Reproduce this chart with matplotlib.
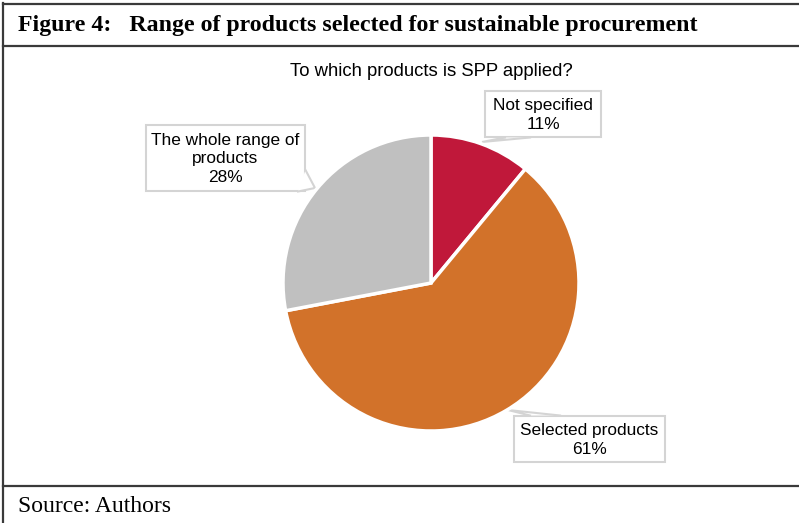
import matplotlib
matplotlib.use("Agg")
import matplotlib.pyplot as plt
from matplotlib.patches import Polygon

labels = ["Not specified", "Selected products", "The whole range of\nproducts"]
values = [11, 61, 28]
colors = ["#C0183A", "#D2722A", "#C0C0C0"]

W, H = 799, 523
fig = plt.figure(figsize=(W / 100, H / 100), dpi=100)

# frame axes in pixel coords
fa = fig.add_axes([0, 0, 1, 1])
fa.set_xlim(0, W)
fa.set_ylim(H, 0)
fa.axis("off")
lc = "#3a3a3a"
fa.plot([3, 3], [3, H], color=lc, lw=1.6)
fa.plot([3, W], [3.5, 3.5], color=lc, lw=1.6)
fa.plot([3, W], [46, 46], color=lc, lw=1.6)
fa.plot([3, W], [485.5, 485.5], color=lc, lw=1.6)

fa.text(18, 26, "Figure 4:   Range of products selected for sustainable procurement",
        family="Liberation Serif", weight="bold", fontsize=17.2, va="center", ha="left")
fa.text(18, 506, "Source: Authors", family="Liberation Serif", fontsize=17,
        va="center", ha="left")
fa.text(431, 72, "To which products is SPP applied?", family="Liberation Sans",
        fontsize=13.3, ha="center", va="center")

# pie
cx, cy, r = 431, 283, 148
pa = fig.add_axes([(cx - r) / W, (H - cy - r) / H, 2 * r / W, 2 * r / H])
pa.pie(values, colors=colors, startangle=90, counterclock=False,
       wedgeprops=dict(edgecolor="white", linewidth=2.5))
pa.set_xlim(-1, 1)
pa.set_ylim(-1, 1)
pa.set_aspect("auto")
pa.axis("off")

# callouts: box (x0, y0, x1, y1) and pointer (base1, tip, base2)
bc = "#d4d4d4"
def callout(box, pointer, text):
    x0, y0, x1, y1 = box
    fa.add_patch(Polygon([(x0, y0), (x1, y0), (x1, y1), (x0, y1)], closed=True,
                         facecolor="white", edgecolor=bc, lw=1.5, zorder=3))
    fa.add_patch(Polygon(pointer, closed=True, facecolor="white", edgecolor="none",
                         lw=0, zorder=4))
    xs = [p[0] for p in pointer]
    ys = [p[1] for p in pointer]
    fa.plot(xs, ys, color=bc, lw=1.5, zorder=5, solid_joinstyle="miter")
    fa.text((x0 + x1) / 2, (y0 + y1) / 2 + 1, text, family="Liberation Sans", fontsize=12.4,
            ha="center", va="center", zorder=6, linespacing=1.3)

pct = [f"{v}%" for v in values]
callout((485, 91, 601, 137), [(505, 137.5), (482, 142), (530, 137.5)],
        f"{labels[0]}\n{pct[0]}")
callout((514, 416, 665, 462), [(530, 415.5), (508, 410), (560, 415.5)],
        f"{labels[1]}\n{pct[1]}")
callout((146, 125, 305, 191), [(305.5, 170), (315, 188), (298, 191.5)],
        f"{labels[2]}\n{pct[2]}")

fig.savefig("out.png", dpi=100)
